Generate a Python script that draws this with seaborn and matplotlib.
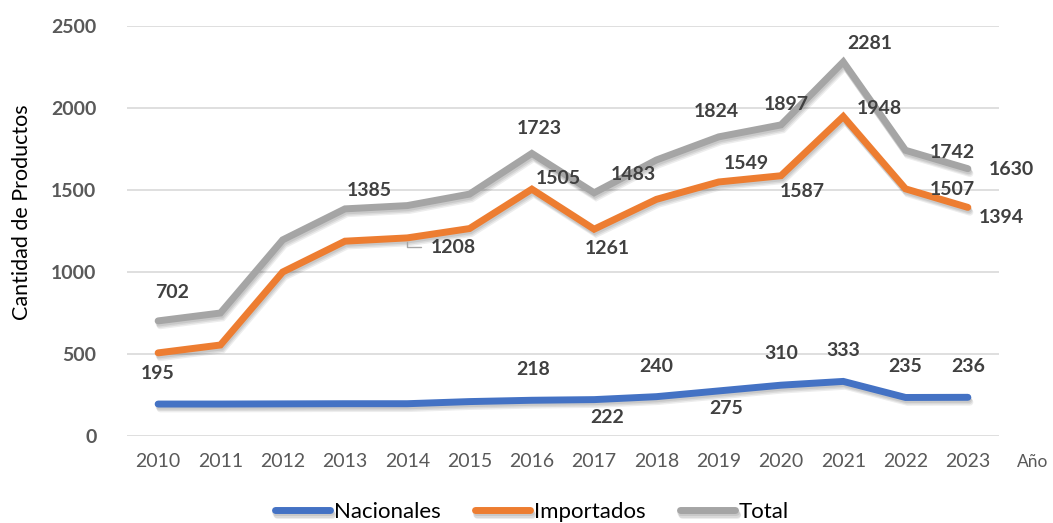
import matplotlib
matplotlib.use("Agg")
import matplotlib.pyplot as plt
import matplotlib.patheffects as pe
import seaborn as sns
import pandas as pd

years = [2010, 2011, 2012, 2013, 2014, 2015, 2016, 2017, 2018, 2019, 2020, 2021, 2022, 2023]
nacionales = [195, 195, 196, 197, 197, 210, 218, 222, 240, 275, 310, 333, 235, 236]
importados = [507, 555, 1000, 1188, 1208, 1265, 1505, 1261, 1443, 1549, 1587, 1948, 1507, 1394]
total = [702, 750, 1196, 1385, 1405, 1475, 1723, 1483, 1683, 1824, 1897, 2281, 1742, 1630]
series_names = ["Nacionales", "Importados", "Total"]
y_ticks = [0, 500, 1000, 1500, 2000, 2500]

# which points carry a data label (index into years) and label offsets in pixels
nac_label_idx = [0, 6, 7, 8, 9, 10, 11, 12, 13]
nac_label_off = [(0, 31), (1, 31), (13, -18), (0, 30), (7, -18), (0, 32), (0, 31), (0, 31), (0, 31)]
imp_label_idx = [4, 6, 7, 9, 10, 11, 12, 13]
imp_label_off = [(46, -10), (26, 11), (13, -19), (28, 18), (21, -16), (36, 8), (47, -1), (33, -10)]
tot_label_idx = [0, 3, 6, 7, 9, 10, 11, 12, 13]
tot_label_off = [(14, 28), (24, 18), (7, 25), (39, 18), (-2, 25), (5, 20), (26, 18), (47, -2), (44, -1)]

colors = {"Nacionales": "#4472C4", "Importados": "#ED7D31", "Total": "#A5A5A5"}

df = pd.DataFrame({
    "Año": years * 3,
    "Cantidad": nacionales + importados + total,
    "Serie": [series_names[0]] * len(years) + [series_names[1]] * len(years) + [series_names[2]] * len(years),
})

sns.set_theme(style="white")
plt.rcParams["font.family"] = ["Lato", "DejaVu Sans"]

fig = plt.figure(figsize=(10.53, 5.23), dpi=100)
ax = fig.add_axes([0.1206, 0.1663, 0.8281, 0.7840])

sns.lineplot(data=df, x="Año", y="Cantidad", hue="Serie", palette=colors,
             linewidth=5, ax=ax, sort=False)

for line in ax.get_lines():
    line.set_solid_capstyle("round")
    line.set_solid_joinstyle("miter")
    line.set_path_effects([
        pe.SimpleLineShadow(offset=(1.5, -3.5), alpha=0.07, shadow_color="#000000"),
        pe.SimpleLineShadow(offset=(1.0, -2.5), alpha=0.08, shadow_color="#000000"),
        pe.SimpleLineShadow(offset=(0.5, -1.5), alpha=0.08, shadow_color="#000000"),
        pe.Normal()])

handles, labels = ax.get_legend_handles_labels()
if ax.legend_ is not None:
    ax.legend_.remove()

ax.set_xlim(years[0] - 0.5, years[-1] + 0.5)
ax.set_ylim(0, 2500)
ax.set_yticks(y_ticks)
ax.set_yticklabels([str(t) for t in y_ticks], fontsize=14, fontweight="bold", color="#595959")
ax.set_xticks(years)
ax.set_xticklabels([str(y) for y in years], fontsize=14, color="#595959")
ax.tick_params(axis="y", length=0, pad=22)
ax.tick_params(axis="x", length=0, pad=12)
ax.grid(axis="y", color="#D9D9D9", linewidth=1.2)
ax.grid(axis="x", visible=False)
for s in ax.spines.values():
    s.set_visible(False)
ax.set_xlabel("")
ax.set_ylabel("Cantidad de Productos", fontsize=15.5, color="#000000")
ax.yaxis.set_label_coords(-0.109, 0.545)

label_style = dict(fontsize=14, fontweight="bold", color="#404040", ha="center", va="center",
                   textcoords="offset pixels")
for idxs, offs, vals in [(nac_label_idx, nac_label_off, nacionales),
                         (imp_label_idx, imp_label_off, importados),
                         (tot_label_idx, tot_label_off, total)]:
    for i, off in zip(idxs, offs):
        ax.annotate(str(vals[i]), xy=(years[i], vals[i]), xytext=off, **label_style)

# leader line for the displaced 1208 label
ax.annotate("", xy=(years[4], importados[4]), xytext=(14, -9), textcoords="offset pixels",
            arrowprops=dict(arrowstyle="-", color="#A6A6A6", lw=1,
                            connectionstyle="angle,angleA=0,angleB=90,rad=0",
                            shrinkA=0, shrinkB=3))

fig.text(1033 / 1053, 1 - 462 / 523, "Año", ha="center", va="center", fontsize=12.5, color="#595959")

leg = fig.legend(handles, labels, loc="center", bbox_to_anchor=(0.505, 0.021), ncol=3, frameon=False,
                 prop={"size": 16}, handlelength=2.5, handletextpad=0.15,
                 columnspacing=1.55)
for h in leg.legend_handles:
    h.set_solid_capstyle("round")
    h.set_linewidth(5)
for t in leg.get_texts():
    t.set_color("#000000")

fig.savefig("out.png", dpi=100)
